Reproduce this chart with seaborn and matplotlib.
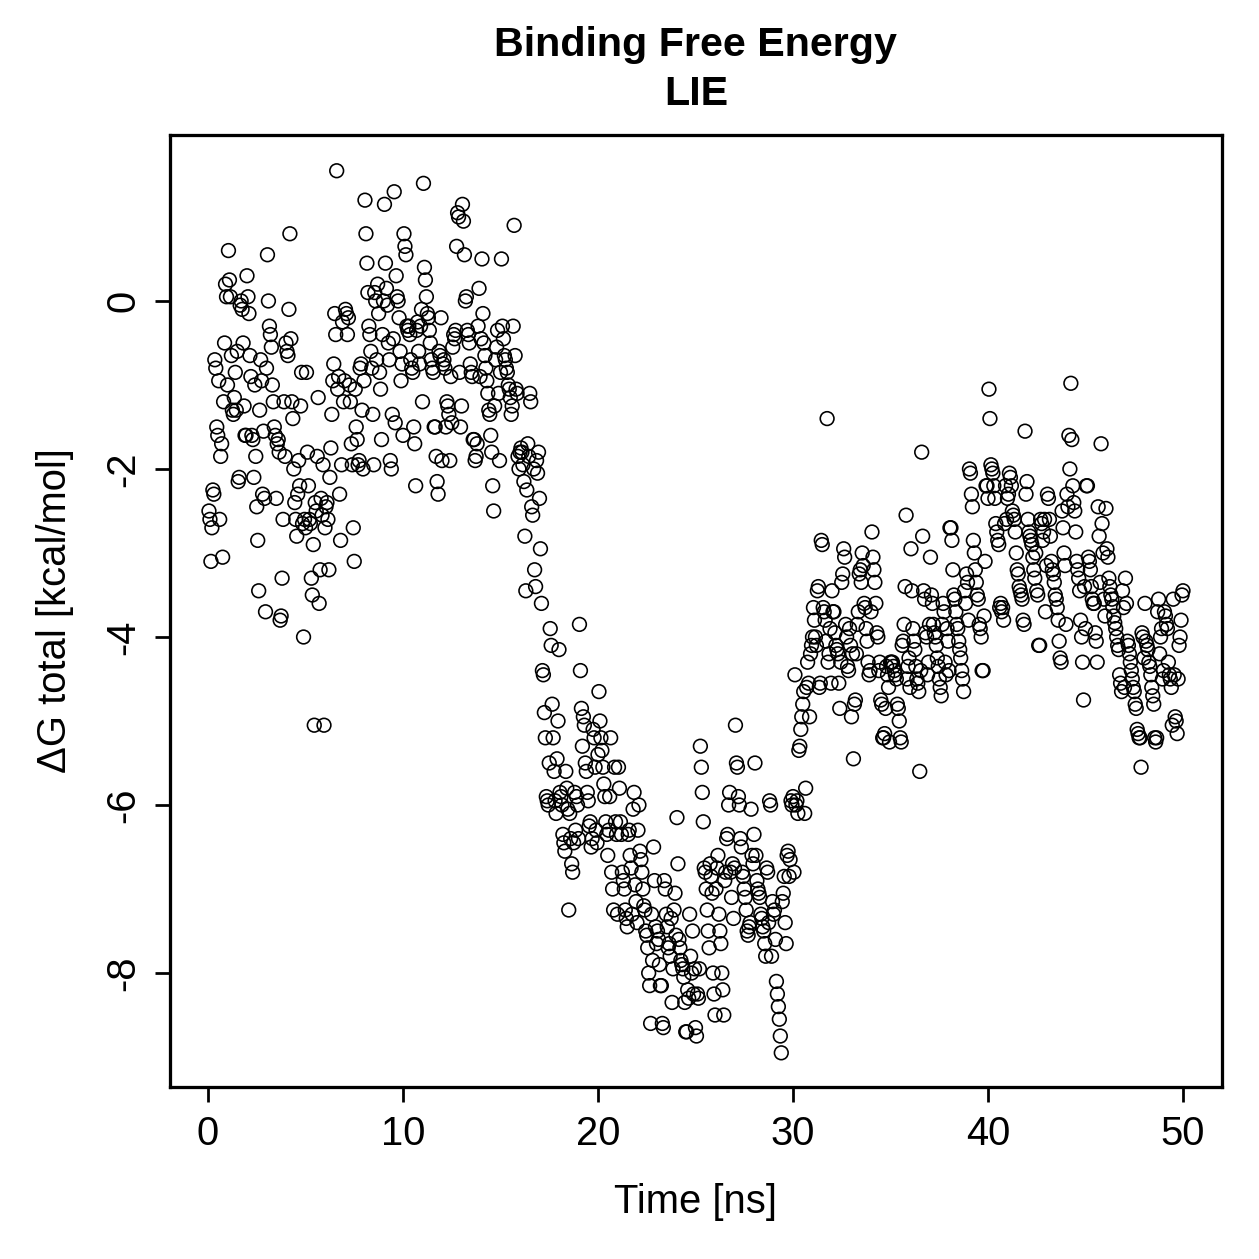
import numpy as np
import pandas as pd
import matplotlib
matplotlib.use("Agg")
import matplotlib.pyplot as plt
import seaborn as sns

# Delta G total (kcal/mol), one row of 20 frames per ns
ns00 = [-2.5,-2.6,-3.1,-2.7,-2.25,-2.3,-0.7,-0.8,-1.5,-1.6,-0.95,-2.6,-1.85,-1.7,-3.05,-1.2,-0.5,0.2,0.05,-1.0]
ns01 = [0.6,0.25,0.05,-0.65,-1.3,-1.35,-1.15,-0.85,-1.3,-0.6,-2.15,-2.1,-0.05,0.0,-0.1,-0.5,-1.25,-1.6,-1.6,0.3]
ns02 = [0.05,-0.15,-0.65,-0.9,-1.6,-1.65,-2.1,-1.0,-1.85,-2.45,-2.85,-3.45,-1.3,-0.7,-0.95,-2.3,-1.55,-2.35,-3.7,-0.8]
ns03 = [0.55,0.0,-0.3,-0.4,-0.55,-1.0,-1.2,-1.5,-1.6,-2.35,-1.7,-1.65,-1.8,-3.8,-3.75,-3.3,-2.6,-1.2,-1.85,-0.5]
ns04 = [-0.6,-0.65,-0.1,0.8,-0.45,-1.2,-1.4,-2.0,-2.4,-2.6,-2.8,-2.3,-1.9,-2.2,-1.25,-0.85,-2.65,-4.0,-2.6,-2.7]
ns05 = [-0.85,-1.8,-2.2,-2.6,-2.65,-3.3,-3.5,-2.9,-5.05,-2.4,-2.5,-1.85,-1.15,-3.6,-3.2,-2.35,-2.55,-1.95,-5.05,-2.7]
ns06 = [-2.45,-2.4,-2.6,-3.2,-2.1,-1.75,-1.35,-0.95,-0.75,-0.15,-0.4,1.55,-1.05,-0.9,-2.3,-2.85,-1.95,-0.25,-1.2,-0.95]
ns07 = [-0.1,-0.15,-0.4,-0.2,-1.0,-1.2,-1.7,-1.95,-2.7,-3.1,-1.05,-1.5,-1.65,-1.95,-1.9,-0.8,-0.75,-1.3,-2.0,-0.95]
ns08 = [1.2,0.8,0.45,0.1,-0.3,-0.4,-0.6,-0.8,-1.35,-1.95,0.1,0.0,-0.7,0.2,-0.15,-0.85,-1.05,-1.65,-0.4,0.0]
ns09 = [1.15,0.45,0.15,-0.05,-0.5,-0.7,-1.9,-2.0,-1.35,-0.45,1.3,-1.45,0.3,0.05,0.0,-0.2,-0.6,-0.95,-0.75,-1.6]
ns10 = [0.8,0.65,0.55,-0.3,-0.35,-0.3,-0.4,-0.7,-0.8,-0.85,-1.5,-1.7,-2.2,-0.35,-0.25,-0.6,-0.75,-0.3,-0.1,-1.2]
ns11 = [1.4,0.4,0.25,0.05,-0.15,-0.2,-0.35,-0.5,-0.7,-0.8,-0.85,-1.5,-1.5,-1.85,-2.15,-2.3,-0.6,-0.65,-0.2,-1.9]
ns12 = [-0.75,-0.7,-0.8,-1.5,-1.2,-1.25,-1.35,-1.9,-0.9,-1.45,-0.55,-0.4,-0.45,-0.35,0.65,1.05,1.0,-0.85,-1.5,-1.25]
ns13 = [1.15,0.95,0.55,0.0,0.05,-0.35,-0.4,-0.5,-0.75,-0.85,-0.9,-1.65,-1.65,-1.9,-1.85,-1.7,-0.3,0.15,-0.9,-0.45]
ns14 = [0.5,-0.15,-0.5,-0.65,-0.8,-0.95,-1.1,-1.3,-1.35,-1.6,-1.8,-2.2,-2.5,-1.25,-0.7,-0.55,-0.35,-1.1,-1.9,-0.85]
ns15 = [0.5,-0.3,-0.45,-0.65,-0.7,-0.8,-0.85,-1.0,-1.05,-1.15,-1.35,-1.25,-0.3,0.9,-0.65,-1.05,-1.1,-1.85,-2.0,-1.8]
ns16 = [-1.75,-1.8,-1.95,-2.15,-2.8,-3.45,-2.25,-1.7,-1.85,-1.1,-1.2,-2.45,-2.55,-2.0,-3.2,-3.4,-1.9,-2.05,-1.8,-2.35]
ns17 = [-2.95,-3.6,-4.4,-4.45,-4.9,-5.2,-5.9,-5.95,-6.0,-5.5,-3.9,-4.1,-4.8,-5.2,-5.6,-5.95,-6.1,-5.45,-5.0,-4.15]
ns18 = [-5.85,-5.9,-6.0,-6.35,-6.45,-6.55,-5.6,-5.8,-6.05,-7.25,-6.1,-6.4,-6.7,-6.8,-6.45,-5.85,-6.3,-5.9,-6.0,-6.4]
ns19 = [-3.85,-4.4,-4.85,-5.3,-4.95,-5.05,-5.5,-5.6,-5.85,-5.95,-6.25,-6.2,-6.5,-6.4,-5.1,-5.2,-5.55,-6.3,-6.45,-5.4]
ns20 = [-4.65,-5.0,-5.2,-5.35,-5.55,-5.75,-5.9,-6.2,-6.35,-6.6,-6.3,-5.9,-5.2,-6.8,-7.0,-7.25,-5.55,-6.2,-6.35,-7.3]
ns21 = [-5.55,-5.8,-6.2,-6.35,-6.8,-6.9,-7.0,-7.25,-7.35,-7.45,-6.35,-6.3,-6.6,-6.75,-7.3,-6.05,-5.85,-6.95,-7.15,-7.4]
ns22 = [-6.3,-6.0,-6.55,-6.65,-6.8,-7.0,-7.2,-7.25,-7.5,-7.55,-7.7,-8.0,-8.15,-8.6,-7.3,-7.85,-6.5,-6.9,-7.45,-7.65]
ns23 = [-7.5,-7.6,-7.9,-8.15,-8.15,-8.6,-8.65,-6.9,-7.0,-7.3,-7.45,-7.7,-7.65,-7.8,-7.35,-8.35,-7.95,-7.25,-7.05,-7.55]
ns24 = [-6.15,-6.7,-7.6,-7.7,-7.85,-7.9,-7.95,-8.05,-8.35,-8.7,-8.7,-8.2,-8.3,-7.3,-7.8,-8.0,-7.5,-8.25,-7.95,-8.65]
ns25 = [-8.75,-8.25,-8.3,-7.95,-5.3,-5.55,-5.85,-6.2,-6.75,-6.8,-7.0,-7.25,-7.5,-7.7,-6.7,-6.85,-7.05,-8.0,-8.25,-8.5]
ns26 = [-7.0,-6.75,-6.6,-7.3,-7.5,-7.65,-8.0,-8.2,-8.5,-6.9,-6.8,-6.4,-6.35,-6.0,-5.85,-6.8,-7.1,-6.7,-7.35,-6.75]
ns27 = [-5.05,-5.5,-5.55,-5.9,-6.0,-6.4,-6.5,-6.8,-6.85,-7.0,-7.1,-7.25,-7.5,-7.55,-7.45,-7.4,-6.05,-6.6,-6.7,-6.35]
ns28 = [-5.5,-6.6,-6.9,-7.0,-7.05,-7.1,-7.3,-7.35,-7.45,-7.5,-7.65,-7.8,-6.75,-6.8,-7.4,-5.95,-6.0,-7.8,-7.15,-7.3]
ns29 = [-7.25,-7.6,-8.1,-8.25,-8.4,-8.55,-8.75,-8.95,-7.15,-7.05,-6.85,-7.4,-7.65,-6.6,-6.55,-6.85,-6.65,-5.95,-6.0,-5.9]
ns30 = [-6.8,-4.45,-6.0,-5.95,-6.1,-5.35,-5.3,-5.1,-4.95,-4.8,-4.65,-6.1,-5.8,-4.6,-4.3,-4.55,-4.95,-4.2,-4.1,-4.0]
ns31 = [-3.65,-3.8,-4.0,-4.1,-3.45,-3.4,-4.6,-4.55,-2.85,-2.9,-3.65,-3.7,-3.8,-4.05,-1.4,-4.3,-4.2,-3.9,-4.55,-3.45]
ns32 = [-3.7,-3.7,-3.95,-4.1,-4.15,-4.2,-4.55,-4.85,-4.3,-3.35,-3.25,-2.95,-3.05,-3.85,-4.0,-4.35,-4.4,-3.9,-4.1,-4.95]
ns33 = [-4.2,-5.45,-4.8,-4.75,-4.2,-3.85,-3.7,-3.25,-3.2,-3.35,-3.0,-3.15,-3.6,-3.65,-3.9,-4.05,-4.3,-4.45,-4.4,-3.7]
ns34 = [-2.75,-3.05,-3.2,-3.35,-3.6,-3.95,-4.0,-4.4,-4.3,-4.75,-4.8,-5.2,-5.2,-5.15,-4.85,-4.35,-4.45,-4.6,-5.25,-4.3]
ns35 = [-4.3,-4.3,-4.35,-4.4,-4.45,-4.5,-4.8,-4.85,-5.0,-5.2,-5.25,-4.1,-4.05,-3.85,-3.4,-2.55,-4.5,-4.35,-4.25,-4.6]
ns36 = [-2.95,-3.45,-3.9,-4.05,-4.15,-4.35,-4.5,-4.55,-4.65,-5.6,-4.4,-1.8,-2.8,-3.45,-3.55,-3.95,-4.0,-4.45,-4.3,-3.85]
ns37 = [-3.05,-3.5,-3.6,-3.85,-3.95,-4.0,-4.1,-4.25,-4.35,-4.5,-4.6,-4.7,-3.85,-3.6,-3.7,-4.3,-4.45,-3.9,-4.05,-4.4]
ns38 = [-2.7,-2.7,-2.85,-3.2,-3.5,-3.55,-3.7,-3.85,-3.9,-4.05,-4.15,-4.25,-4.4,-4.5,-4.65,-3.45,-3.6,-3.25,-3.35,-3.8]
ns39 = [-2.0,-2.05,-2.3,-2.45,-2.85,-3.0,-3.2,-3.35,-3.5,-3.55,-3.85,-3.9,-4.0,-4.4,-4.4,-3.75,-3.1,-2.2,-2.2,-2.35]
ns40 = [-1.05,-1.4,-1.95,-2.0,-2.05,-2.2,-2.35,-2.65,-2.75,-2.85,-2.9,-3.65,-3.6,-3.7,-3.65,-3.8,-2.65,-2.2,-2.6,-2.35]
ns41 = [-2.3,-2.05,-2.1,-2.2,-2.5,-2.55,-2.6,-2.75,-3.0,-3.2,-3.25,-3.4,-3.45,-3.5,-3.55,-3.8,-3.85,-1.55,-2.3,-2.15]
ns42 = [-2.6,-2.75,-2.8,-2.85,-2.9,-3.05,-3.2,-3.3,-3.0,-3.45,-3.5,-4.1,-4.1,-2.6,-2.65,-2.85,-2.75,-2.6,-3.7,-3.15]
ns43 = [-2.3,-2.35,-2.6,-2.8,-3.1,-3.2,-3.25,-3.35,-3.5,-3.55,-3.65,-3.8,-4.05,-4.25,-4.3,-2.5,-2.7,-3.0,-3.15,-3.85]
ns44 = [-2.3,-2.45,-1.6,-2.0,-0.98,-1.65,-2.2,-2.4,-2.5,-2.75,-3.1,-3.2,-3.3,-3.45,-3.8,-4.0,-4.3,-4.75,-3.4,-3.9]
ns45 = [-2.2,-2.2,-3.05,-3.1,-3.2,-3.4,-3.55,-3.6,-3.6,-3.95,-4.05,-4.3,-2.45,-2.8,-3.35,-1.7,-2.65,-3.0,-3.55,-3.75]
ns46 = [-2.47,-2.95,-3.05,-3.3,-3.4,-3.5,-3.55,-3.64,-3.75,-3.83,-3.9,-4.0,-4.1,-4.15,-4.45,-4.55,-4.65,-3.45,-3.65,-4.6]
ns47 = [-3.3,-3.6,-4.05,-4.1,-4.2,-4.3,-4.4,-4.5,-4.6,-4.65,-4.8,-4.85,-5.1,-5.15,-5.2,-5.2,-5.55,-3.95,-4.0,-4.25]
ns48 = [-3.6,-4.05,-4.1,-4.15,-4.3,-4.35,-4.45,-4.6,-4.7,-4.8,-5.2,-5.25,-5.2,-3.7,-3.55,-4.2,-4.0,-3.9,-4.5,-4.4]
ns49 = [-3.7,-3.75,-3.85,-3.9,-4.3,-4.45,-4.5,-4.6,-5.05,-3.55,-4.45,-4.95,-5.0,-5.15,-4.5,-4.1,-4.0,-3.8,-3.5,-3.45]

chunks = [ns00, ns01, ns02, ns03, ns04, ns05, ns06, ns07, ns08, ns09,
          ns10, ns11, ns12, ns13, ns14, ns15, ns16, ns17, ns18, ns19,
          ns20, ns21, ns22, ns23, ns24, ns25, ns26, ns27, ns28, ns29,
          ns30, ns31, ns32, ns33, ns34, ns35, ns36, ns37, ns38, ns39,
          ns40, ns41, ns42, ns43, ns44, ns45, ns46, ns47, ns48, ns49]

# frames are spread evenly inside each 1 ns block
time_ns = []
dg_total = []
for k, c in enumerate(chunks):
    n = len(c)
    for j, v in enumerate(c):
        time_ns.append(k + (j + 1) / n)
        dg_total.append(v)

df = pd.DataFrame({"time": time_ns, "dg": dg_total})

sns.set_style("ticks")
plt.rcParams['font.family'] = ['Liberation Sans', 'DejaVu Sans']
plt.rcParams['axes.unicode_minus'] = False
plt.rcParams['text.color'] = 'black'
plt.rcParams['axes.labelcolor'] = 'black'
plt.rcParams['xtick.color'] = 'black'
plt.rcParams['ytick.color'] = 'black'

fig = plt.figure(figsize=(1259 / 180, 1259 / 180), dpi=180)
ax = fig.add_axes([0.135, 0.1366, 0.8356, 0.7562])

sns.scatterplot(data=df, x="time", y="dg", ax=ax, marker="o", s=30,
                facecolor="none", edgecolor="black", linewidth=0.65)

ax.set_xlim(-1.95, 52.0)
ax.set_ylim(-9.357, 1.976)
ax.set_xticks([0, 10, 20, 30, 40, 50])
ax.set_yticks([-8, -6, -4, -2, 0])
ax.tick_params(axis="both", direction="out", length=6, width=1.1,
               labelsize=16, color="black", labelcolor="black", pad=5)
for lab in ax.get_yticklabels():
    lab.set_rotation(90)
    lab.set_va("center")
for sp in ax.spines.values():
    sp.set_linewidth(1.3)
    sp.set_color("black")

ax.set_xlabel("Time [ns]", fontsize=16, labelpad=12, color="black")
ax.set_ylabel("ΔG total [kcal/mol]", fontsize=16, labelpad=12, color="black")
ax.set_title("Binding Free Energy\nLIE", fontsize=16.5, fontweight="bold",
             pad=12, linespacing=1.35, color="black")

fig.savefig("out.png", dpi=180)
